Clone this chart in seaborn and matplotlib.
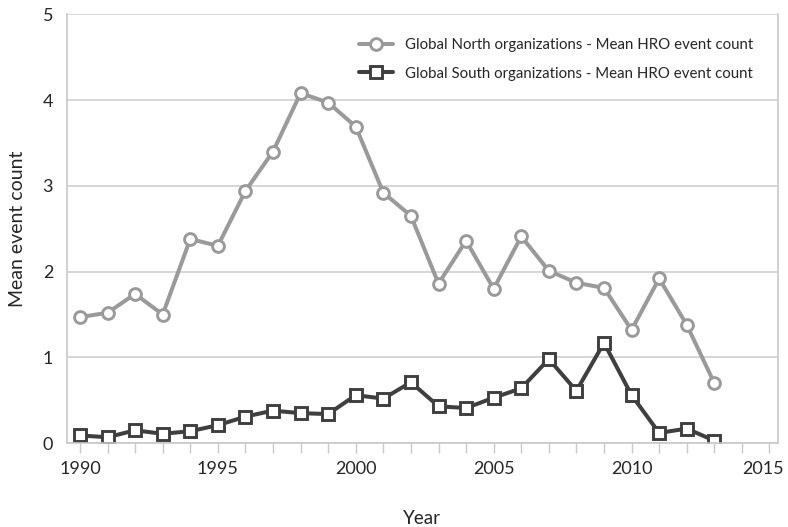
import pandas as pd
import seaborn as sns
import matplotlib.pyplot as plt
from matplotlib.transforms import ScaledTranslation

years = list(range(1990, 2014))
north = [1.47, 1.52, 1.74, 1.50, 2.38, 2.30, 2.94, 3.40, 4.08, 3.97, 3.69, 2.92,
         2.65, 1.86, 2.36, 1.80, 2.41, 2.01, 1.87, 1.81, 1.32, 1.92, 1.38, 0.70]
south = [0.09, 0.07, 0.15, 0.11, 0.14, 0.21, 0.31, 0.38, 0.35, 0.34, 0.56, 0.52,
         0.71, 0.43, 0.41, 0.53, 0.64, 0.98, 0.61, 1.17, 0.56, 0.12, 0.17, 0.03]
north_label = "Global North organizations - Mean HRO event count"
south_label = "Global South organizations - Mean HRO event count"
year_ticks = [1990, 1995, 2000, 2005, 2010, 2015]

df = pd.DataFrame({"Year": years, "north": north, "south": south})

sns.set_style("white")
plt.rcParams['font.family'] = ['Lato', 'DejaVu Sans']

fig = plt.figure(figsize=(7.88, 5.27), dpi=100)
ax = fig.add_axes([0.085, 0.159, 0.902, 0.814])

sns.lineplot(x="Year", y="north", data=df, ax=ax, color="#9a9a9a", lw=2.9,
             marker="o", markersize=8.5, markerfacecolor="white",
             markeredgecolor="#9a9a9a", markeredgewidth=2.1, label=north_label)
sns.lineplot(x="Year", y="south", data=df, ax=ax, color="#3f3f3f", lw=2.9,
             marker="s", markersize=8.5, markerfacecolor="white",
             markeredgecolor="#3f3f3f", markeredgewidth=2.1, label=south_label)

ax.set_xlim(1989.53, 2015.3)
ax.set_ylim(0, 5)
ax.set_yticks(range(0, 6))
ax.set_xticks(range(1990, 2016), minor=True)
ax.set_xticks(year_ticks)
ax.set_xticklabels([str(y) for y in year_ticks])
ax.grid(axis="y", color="#d0d0d0", lw=1.2)
ax.set_axisbelow(True)

for side in ["left", "bottom", "right"]:
    ax.spines[side].set_color("#c8c8c8")
    ax.spines[side].set_linewidth(1.2)
ax.spines["top"].set_visible(False)

ax.tick_params(axis="x", which="both", direction="out", length=7.5, width=1,
               color="#c8c8c8", labelsize=13, pad=5, bottom=True)
ax.tick_params(axis="y", length=0, labelsize=13, pad=10)

# nudge the last year label so it stays inside the figure
last = ax.get_xticklabels()[-1]
last.set_transform(last.get_transform() + ScaledTranslation(-6 / 100, 0, fig.dpi_scale_trans))

ax.set_xlabel("Year", fontsize=13.5, labelpad=24)
ax.set_ylabel("Mean event count", fontsize=14, labelpad=12)

ax.legend(loc="upper right", bbox_to_anchor=(0.985, 0.975), frameon=False,
          fontsize=10.8, handlelength=2.3, handletextpad=0.8, labelspacing=0.95)

fig.savefig("out.png", dpi=100)
